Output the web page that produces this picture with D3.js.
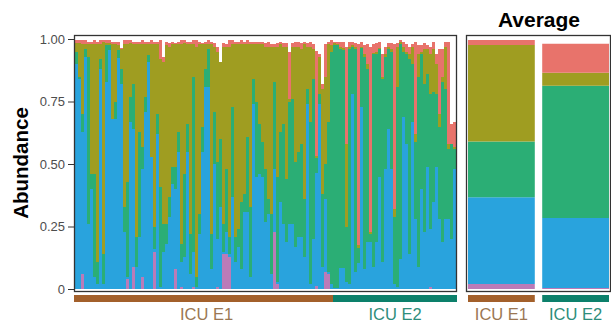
<!DOCTYPE html>
<html>
<head>
<meta charset="utf-8">
<script src="https://cdn.jsdelivr.net/npm/d3@7"></script>
<style>
  body { margin: 0; background: #fff; }
  text { font-family: "Liberation Sans", Arial, sans-serif; }
</style>
</head>
<body>
<svg id="chart" width="611" height="323"></svg>
<script>
// Groups and sample counts
var groupNames = ["ICU E1", "ICU E2"];
var groupCounts = [86, 41];
var groupColors = ["#a3602b", "#0c806b"];
var groupTextColors = ["#9b7753", "#2e8d7b"];

// Taxa, bottom to top of each stack
var taxa = ["pink", "blue", "green", "olive", "red"];
var taxaColors = ["#bb7bb8", "#29a3dd", "#2bae75", "#9f9d21", "#e8736b"];

// Per-sample abundance for each taxon (86 ICU E1 samples then 41 ICU E2)
var pinkAbund = [0,0,.06,0,0,0,0,0,0,0, 0,0,0,0,0,0,0,.04,0,.09, 0,0,.05,0,0,0,.15,0,0,0,
  0,0,0,.08,0,.01,0,0,0,.01, 0,0,0,0,0,0,0,.01,0,.14, .14,.13,0,0,0,0,0,0,0,0,
  0,0,0,0,0,0,.23,.02,0,0, 0,0,0,0,0,0,0,0,0,0, .013,0,0,.07,.06,0,
  0,0,0,0,0,0,0,0,0,0, 0,0,0,0,0,0,0,0,0,0, 0,0,0,0,0,0,0,0,0,0, 0,0,.01,0,0,0,0,0,0,0,0];
var blueAbund = [.90,.84,.57,.93,.26,.40,.05,.02,.88,.02, .83,.955,.68,.68,.925,.82,.23,.01,.67,.55,
  .09,.21,.43,.71,.91,.53,.01,.62,.01,.15, .18,.29,.42,.32,.55,.10,.13,.55,.06,.14,
  .01,.22,.55,.81,.81,.08,.50,.19,.33,.01, .09,.01,.37,.11,.17,.08,.31,.31,.05,.74,
  .45,.46,.45,.27,.30,.06,.25,.01,.35,.26, .19,.26,.26,.17,.21,.21,.13,.74,.02,.20,
  .45,.74,.09,.29,.01,.02,
  .005,.005,.086,.086,.027,.02,.78,.07,.106,.73, .08,.19,.19,.09,.19,.45,.11,.48,.64,.48,
  .02,.01,.12,.69,.58,.14,.67,.28,.09,.40, .23,.49,.23,.35,.49,.28,.19,.28,.28,.20,.48];
var greenAbund = [.05,.01,.07,.03,.67,.06,.41,.09,.04,.12, .145,.02,0,.07,.03,.06,.10,.38,.10,.18,
  .12,.42,.09,.06,.025,0,.09,.08,.40,.11, .08,.08,.07,.09,.08,.07,.33,.11,.16,.70,
  .04,.08,.10,.07,.15,.14,.21,.31,.27,.11, .25,.07,.36,.10,.07,.27,.07,.30,.28,.10,
  .30,.20,.14,.21,.06,.24,.35,.42,.28,.40, .25,.49,.50,.34,.34,.37,.23,.06,.65,.64,
  .06,.04,.29,.14,.60,.93,
  .97,.97,.874,.869,.223,.94,.19,.89,.059,.235, .85,.69,.03,.85,.75,.51,.73,.45,.32,.47,
  .27,.80,.86,.26,.36,.78,.23,.31,.76,.54, .59,.37,.54,.44,.29,.37,.64,.52,.28,.38,.08];
var oliveAbund = [.035,.135,.28,.02,.05,.52,.52,.87,.06,.85, .01,.01,.30,.23,.02,.08,.65,.55,.215,.16,
  .77,.35,.41,.21,.045,.45,.73,.28,.51,.65, .715,.60,.49,.49,.35,.80,.525,.32,.76,.13,
  .92,.68,.33,.10,.02,.76,.26,.44,.31,.71, .49,.76,.25,.77,.74,.63,.60,.37,.65,.14,
  .23,.32,.39,.49,.61,.67,.14,.52,.35,.31, .53,.01,.21,.46,.42,.38,.62,.17,.30,.12,
  .01,.15,.42,.35,.31,.025,
  .01,.005,.01,.01,.33,.01,.005,.01,.01,.005, .01,.02,.01,.005,.01,.005,.01,.01,.01,.01,
  .03,.16,.01,.02,.01,.02,.07,.03,.09,.01, .14,.10,.16,.17,.12,.05,.02,.17,.02,0,.01];
var redAbund = [.01,.01,.015,.015,.01,.01,.015,.01,.015,.005, .01,.01,.01,.01,.015,.005,.015,.015,.01,.01,
  .01,.01,.015,.01,.01,.015,.01,.01,.075,.02, .015,.015,.01,.005,.01,.015,.01,.01,.01,.015,
  .025,.01,.005,.01,.015,.01,.015,.02,0,.015, .01,.025,.015,.01,.01,.015,.01,.015,.01,.01,
  .01,.01,.01,.015,.02,.01,.01,.015,.01,.015, .015,.19,.015,.02,.02,.025,.01,.015,.02,.02,
  .42,.01,.02,.13,.01,.02,
  .005,.01,.02,.025,.39,.02,.015,.015,.805,.02, .035,.08,.74,.035,.035,.025,.09,.03,.015,.025,
  .66,.015,.005,.02,.03,.03,.01,.37,.035,.025, .025,.015,.03,.03,.04,.26,.11,.02,.41,.08,.10];

// Group averages, same taxon order
var avgE1 = [.02, .347, .223, .386, .02];
var avgE2 = [.004, .28, .529, .052, .116];

var yTicks = [0, 0.25, 0.5, 0.75, 1];

/*** Build rows ***/
var samples = [];
for (var i = 0; i < blueAbund.length; i++) {
  samples.push({
    id: i,
    group: i < groupCounts[0] ? groupNames[0] : groupNames[1],
    pink: pinkAbund[i], blue: blueAbund[i], green: greenAbund[i],
    olive: oliveAbund[i], red: redAbund[i]
  });
}
var averages = [avgE1, avgE2].map(function(a, k) {
  var row = { group: groupNames[k] };
  taxa.forEach(function(t, j) { row[t] = a[j]; });
  return row;
});

var stack = d3.stack().keys(taxa);
var color = d3.scaleOrdinal().domain(taxa).range(taxaColors);

var svg = d3.select("#chart");
var TOP = 35, BOTTOM = 291;
var LABEL_Y = 319.5;
var y = d3.scaleLinear().domain([-0.008, 1.016]).range([BOTTOM, TOP]);

/*** Sample panel ***/
var x = d3.scaleBand()
  .domain(samples.map(function(d) { return d.id; }))
  .range([75, 456])
  .padding(0);

svg.append("g")
  .selectAll("g")
  .data(stack(samples))
  .enter().append("g")
    .attr("fill", function(d) { return color(d.key); })
  .selectAll("rect")
  .data(function(d) { return d; })
  .enter().append("rect")
    .attr("x", function(d) { return x(d.data.id); })
    .attr("y", function(d) { return y(d[1]); })
    .attr("width", x.bandwidth())
    .attr("height", function(d) { return Math.max(0, y(d[0]) - y(d[1])); })
    .attr("shape-rendering", "crispEdges");

svg.append("rect")
  .attr("x", 74.5).attr("y", TOP + 0.5)
  .attr("width", 382).attr("height", BOTTOM - TOP)
  .attr("fill", "none").attr("stroke", "#333").attr("stroke-width", 1.3);

var yAxis = svg.append("g")
  .attr("transform", "translate(74,0)")
  .call(d3.axisLeft(y).tickValues(yTicks).tickSize(6).tickPadding(3)
    .tickFormat(function(d) { return d === 0 ? "0" : d3.format(".2f")(d); }));
yAxis.select(".domain").remove();
yAxis.selectAll("line").attr("stroke", "#333");
yAxis.selectAll("text")
  .attr("fill", "#4d4d4d")
  .style("font-size", "13px")
  .style("font-family", "Liberation Sans, Arial, sans-serif");

svg.append("text")
  .attr("transform", "translate(28,163) rotate(-90)")
  .attr("text-anchor", "middle")
  .style("font-size", "20.5px")
  .style("font-weight", "bold")
  .text("Abundance");

// group strips under the samples
var start = 0;
groupNames.forEach(function(g, k) {
  var first = start, last = start + groupCounts[k] - 1;
  var x0 = x(first), x1 = x(last) + x.bandwidth();
  if (k === 0) x0 = 74;
  if (k === groupNames.length - 1) x1 = 457;
  svg.append("rect")
    .attr("x", x0).attr("y", 295)
    .attr("width", x1 - x0).attr("height", 7)
    .attr("fill", groupColors[k]);
  svg.append("text")
    .attr("x", (x0 + x1) / 2 + (k === 0 ? 3 : 0))
    .attr("y", LABEL_Y)
    .attr("text-anchor", "middle")
    .attr("fill", groupTextColors[k])
    .style("font-size", "16.5px")
    .text(g);
  start += groupCounts[k];
});

/*** Average panel ***/
var xa = d3.scaleBand()
  .domain(groupNames)
  .range([468, 609])
  .paddingInner(0.1)
  .paddingOuter(0);

svg.append("g")
  .selectAll("g")
  .data(stack(averages))
  .enter().append("g")
    .attr("fill", function(d) { return color(d.key); })
  .selectAll("rect")
  .data(function(d) { return d; })
  .enter().append("rect")
    .attr("x", function(d) { return xa(d.data.group); })
    .attr("y", function(d) { return y(d[1]); })
    .attr("width", xa.bandwidth())
    .attr("height", function(d) { return Math.max(0, y(d[0]) - y(d[1])); });

svg.append("rect")
  .attr("x", 466.5).attr("y", TOP + 0.5)
  .attr("width", 144).attr("height", BOTTOM - TOP)
  .attr("fill", "none").attr("stroke", "#333").attr("stroke-width", 1.3);

svg.append("text")
  .attr("x", 539).attr("y", 27)
  .attr("text-anchor", "middle")
  .style("font-size", "21px")
  .style("font-weight", "bold")
  .text("Average");

groupNames.forEach(function(g, k) {
  svg.append("rect")
    .attr("x", xa(g)).attr("y", 295)
    .attr("width", xa.bandwidth()).attr("height", 7)
    .attr("fill", groupColors[k]);
  svg.append("text")
    .attr("x", xa(g) + xa.bandwidth() / 2)
    .attr("y", LABEL_Y)
    .attr("text-anchor", "middle")
    .attr("fill", groupTextColors[k])
    .style("font-size", "16.5px")
    .text(g);
});
</script>
</body>
</html>
